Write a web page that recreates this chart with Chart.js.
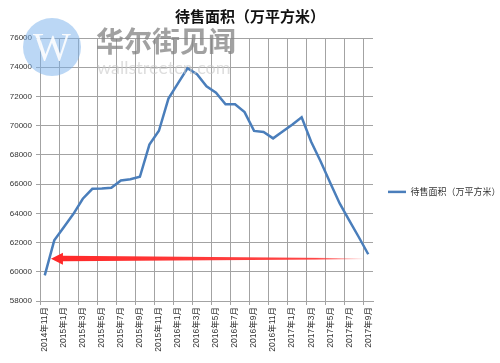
<!DOCTYPE html>
<html>
<head>
<meta charset="utf-8">
<script src="https://cdn.jsdelivr.net/npm/chart.js@4.4.0/dist/chart.umd.min.js"></script>
<style>
  html, body { margin: 0; padding: 0; background: #fff; }
  #wrap { width: 500px; height: 363px; }
</style>
</head>
<body>
<div id="wrap"><canvas id="grafico" width="500" height="363"></canvas></div>
<script>
// meses (rótulos do eixo x)
const meses = [
    '2014年11月', '2014年12月',
    '2015年1月', '2015年2月', '2015年3月', '2015年4月', '2015年5月', '2015年6月',
    '2015年7月', '2015年8月', '2015年9月', '2015年10月', '2015年11月', '2015年12月',
    '2016年1月', '2016年2月', '2016年3月', '2016年4月', '2016年5月', '2016年6月',
    '2016年7月', '2016年8月', '2016年9月', '2016年10月', '2016年11月', '2016年12月',
    '2017年1月', '2017年2月', '2017年3月', '2017年4月', '2017年5月', '2017年6月',
    '2017年7月', '2017年8月', '2017年9月'
];

// 待售面积（万平方米）
const areaVenda = [
    59750, 62150,
    63050, 63950, 65000, 65680, 65700, 65750,
    66250, 66330, 66500, 68700, 69650, 71850,
    72900, 73930, 73520, 72700, 72260, 71460,
    71460, 70930, 69640, 69570, 69130, 69600,
    70070, 70570, 68900, 67550, 66100, 64680,
    63520, 62380, 61200
];

const nomeSerie = '待售面积（万平方米）';
const eixoY = { min: 58000, max: 76000, passo: 2000 };

// seta vermelha: do índice 33.4 até 0.65, no valor 60900
const seta = { de: 33.4, ate: 0.65, valor: 60900 };

const fonteTick = { family: '"Liberation Sans", "Noto Sans CJK SC"', size: 8 };
const corGrade = '#a3a3a3';

const pluginExtras = {
    id: 'extras',
    afterDatasetsDraw(chart) {
        const ctx = chart.ctx;
        const x = chart.scales.x, y = chart.scales.y;
        const x0 = x.getPixelForValue(seta.ate); // ponta
        const x1 = x.getPixelForValue(seta.de);  // cauda
        const yc = y.getPixelForValue(seta.valor);
        const grad = ctx.createLinearGradient(x0, 0, x1, 0);
        grad.addColorStop(0, 'rgba(255,40,40,1)');
        grad.addColorStop(0.85, 'rgba(255,50,50,0.9)');
        grad.addColorStop(1, 'rgba(255,60,60,0.1)');
        ctx.save();
        ctx.fillStyle = grad;
        ctx.beginPath();
        ctx.moveTo(x0, yc);
        ctx.lineTo(x0 + 12, yc - 6);
        ctx.lineTo(x0 + 12, yc - 3);
        ctx.lineTo(x1, yc - 0.5);
        ctx.lineTo(x1, yc + 0.5);
        ctx.lineTo(x0 + 12, yc + 2.5);
        ctx.lineTo(x0 + 12, yc + 6);
        ctx.closePath();
        ctx.fill();
        ctx.restore();
    },
    afterDraw(chart) {
        // marca d'água
        const ctx = chart.ctx;
        ctx.save();
        ctx.fillStyle = 'rgba(120,175,235,0.5)';
        ctx.beginPath();
        ctx.arc(52, 47, 29, 0, Math.PI * 2);
        ctx.fill();
        ctx.fillStyle = 'rgba(255,255,255,0.9)';
        ctx.font = '40px "Liberation Serif"';
        ctx.textAlign = 'center';
        ctx.textBaseline = 'middle';
        ctx.fillText('W', 52, 49);
        ctx.textAlign = 'left';
        ctx.fillStyle = 'rgba(130,130,130,0.75)';
        ctx.font = 'bold 28px "Noto Sans CJK SC"';
        ctx.fillText('华尔街见闻', 96, 41, 145);
        ctx.fillStyle = 'rgba(200,200,200,0.6)';
        ctx.font = '18px Lato';
        ctx.fillText('wallstreetcn.com', 97, 68, 143);
        ctx.restore();
    }
};

new Chart(document.getElementById('grafico'), {
    type: 'line',
    data: {
        labels: meses,
        datasets: [{
            label: nomeSerie,
            data: areaVenda,
            borderColor: '#4a7ebb',
            backgroundColor: '#4a7ebb',
            borderWidth: 2.5,
            tension: 0,
            pointRadius: 0,
            fill: false
        }]
    },
    options: {
        responsive: false,
        animation: false,
        devicePixelRatio: 1,
        layout: { padding: { left: 0, right: 0, top: 0, bottom: 0 } },
        scales: {
            x: {
                offset: true,
                grid: {
                    offset: true,
                    color: (c) => c.index % 2 === 0 ? corGrade : 'rgba(0,0,0,0)',
                    tickLength: 4
                },
                border: { color: corGrade },
                ticks: {
                    autoSkip: false,
                    maxRotation: 90,
                    minRotation: 90,
                    padding: 2,
                    color: '#333',
                    font: { family: fonteTick.family, size: 8.5 },
                    callback: (v, i) => i % 2 === 0 ? meses[i] : ''
                },
                afterFit: (s) => { s.height = 62; }
            },
            y: {
                min: eixoY.min,
                max: eixoY.max,
                grid: { color: corGrade, tickLength: 4 },
                border: { color: corGrade },
                ticks: {
                    stepSize: eixoY.passo,
                    padding: 4,
                    color: '#333',
                    font: fonteTick,
                    callback: (v) => String(v)
                },
                afterFit: (s) => { s.width = 40; }
            }
        },
        plugins: {
            title: {
                display: true,
                text: nomeSerie,
                color: '#111',
                font: { family: '"Noto Sans CJK SC"', size: 15, weight: 'bold', lineHeight: 1.2 },
                padding: { top: 7, bottom: 13 }
            },
            legend: {
                position: 'right',
                maxWidth: 127,
                title: { display: true, text: '', padding: { top: 10, bottom: 0 }, font: { size: 9 } },
                labels: {
                    usePointStyle: true,
                    pointStyle: 'line',
                    pointStyleWidth: 18,
                    padding: 15,
                    color: '#333',
                    font: { family: '"Noto Sans CJK SC"', size: 9 }
                }
            },
            tooltip: { enabled: false }
        }
    },
    plugins: [pluginExtras]
});
</script>
</body>
</html>
